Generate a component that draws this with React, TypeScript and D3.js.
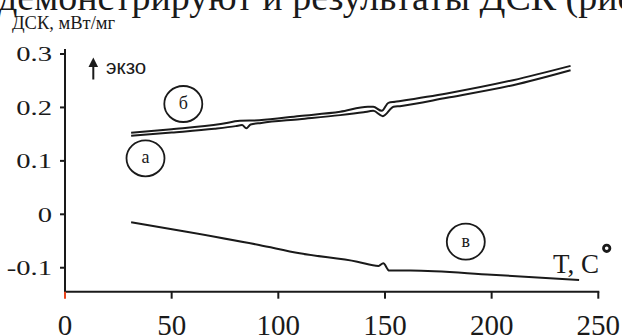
import React from "react";
import * as d3 from "d3";

// DSC curves: temperature (°C) vs heat flow (mW/mg)
const tempA = [31, 50, 70, 80, 83, 85, 87, 92, 110, 129, 140, 144.5, 149, 154, 157, 179, 210, 237];
const valA = [0.147, 0.153, 0.16, 0.165, 0.167, 0.161, 0.168, 0.171, 0.178, 0.1856, 0.191, 0.1936, 0.1837, 0.2011, 0.2024, 0.218, 0.2417, 0.2697];

const tempB = [31, 50, 73, 82, 91, 110, 129, 142, 144.5, 148.5, 151.6, 154.7, 179, 210, 237];
const valB = [0.1525, 0.159, 0.1688, 0.175, 0.176, 0.184, 0.1918, 0.2011, 0.2011, 0.1936, 0.2086, 0.2105, 0.2262, 0.251, 0.2778];

const tempC = [31, 57, 91, 110, 137, 147, 149.2, 152, 162, 200, 241];
const valC = [-0.015, -0.0325, -0.0574, -0.0729, -0.0886, -0.0966, -0.0916, -0.1054, -0.1054, -0.113, -0.1228];

const xTicks = [0, 50, 100, 150, 200, 250];
const yTicks = [0.3, 0.2, 0.1, 0, -0.1];
const yTickLabels = ["0.3", "0.2", "0.1", "0", "-0.1"];

const headerText = "демонстрируют и результаты ДСК (рис";
const yTitle = "ДСК, мВт/мг";
const xTitle = "T, C";
const exoLabel = "экзо";

const serif = "Liberation Serif, Times New Roman, serif";
const sans = "Liberation Sans, Arial, sans-serif";

export default function App() {
  const x = d3.scaleLinear().domain([0, 250]).range([65, 598.3]);
  const y = d3.scaleLinear().domain([0, 0.3]).range([214.3, 54]);
  const yBottom = 291.7;

  const line = d3
    .line<[number, number]>()
    .x((d) => x(d[0]))
    .y((d) => y(d[1]))
    .curve(d3.curveMonotoneX);

  const pathA = line(tempA.map((t, i) => [t, valA[i]]))!;
  const pathB = line(tempB.map((t, i) => [t, valB[i]]))!;
  const pathC = line(tempC.map((t, i) => [t, valC[i]]))!;

  const circleLabel = (cx: number, cy: number, txt: string) => (
    <g>
      <ellipse cx={cx} cy={cy} rx={19} ry={18} fill="none" stroke="#1a1a1a" strokeWidth={1.8} />
      <text x={cx} y={cy + 5} textAnchor="middle" style={{ fontFamily: serif, fontSize: 18 }} fill="#1a1a1a">
        {txt}
      </text>
    </g>
  );

  return (
    <svg
      width={622}
      height={336}
      style={{ position: "absolute", left: 0, top: 0, background: "#fff" }}
    >
      <rect width={622} height={336} fill="#fff" />
      <text x={-2} y={10} style={{ fontFamily: serif, fontSize: 38 }} fill="#1a1a1a">
        {headerText}
      </text>
      <text x={12} y={29} style={{ fontFamily: serif, fontSize: 18.5 }} fill="#1a1a1a">
        {yTitle}
      </text>

      {/* axes */}
      <line x1={65} x2={65} y1={49} y2={yBottom} stroke="#1a1a1a" strokeWidth={2} />
      <line x1={64} x2={x(250) + 1} y1={yBottom} y2={yBottom} stroke="#1a1a1a" strokeWidth={2} />
      {yTicks.map((t, i) => (
        <g key={t}>
          <line x1={60} x2={65} y1={y(t)} y2={y(t)} stroke="#1a1a1a" strokeWidth={2} />
          <text
            x={52}
            y={y(t) + 7.5}
            textAnchor="end"
            style={{ fontFamily: serif, fontSize: 22 }}
            fill="#1a1a1a"
            transform={`translate(52,0) scale(1.3,1) translate(-52,0)`}
          >
            {yTickLabels[i]}
          </text>
        </g>
      ))}
      {xTicks.map((t) => (
        <g key={t}>
          <line
            x1={x(t)}
            x2={x(t)}
            y1={yBottom}
            y2={yBottom + 7}
            stroke={t === 0 ? "#e8431c" : "#1a1a1a"}
            strokeWidth={2}
          />
          <text x={x(t)} y={335} textAnchor="middle" style={{ fontFamily: serif, fontSize: 29 }} fill="#1a1a1a">
            {t}
          </text>
        </g>
      ))}

      {/* curves */}
      <path d={pathA} fill="none" stroke="#1a1a1a" strokeWidth={2} />
      <path d={pathB} fill="none" stroke="#1a1a1a" strokeWidth={2} />
      <path d={pathC} fill="none" stroke="#1a1a1a" strokeWidth={2} />

      {circleLabel(183.3, 104, "б")}
      {circleLabel(145.5, 158.3, "а")}
      {circleLabel(465.8, 241.7, "в")}

      {/* exo arrow */}
      <line x1={93.3} x2={93.3} y1={79.5} y2={64} stroke="#1a1a1a" strokeWidth={2} />
      <path d="M88.5,67 L93.3,57.5 L98.1,67 Z" fill="#1a1a1a" />
      <text x={106} y={74} style={{ fontFamily: sans, fontSize: 20.5 }} fill="#1a1a1a">
        {exoLabel}
      </text>

      <text x={553} y={272.5} style={{ fontFamily: serif, fontSize: 27 }} fill="#1a1a1a">
        {xTitle}
      </text>
      <circle cx={606.7} cy={248.3} r={3.2} fill="none" stroke="#1a1a1a" strokeWidth={2.8} />
    </svg>
  );
}
